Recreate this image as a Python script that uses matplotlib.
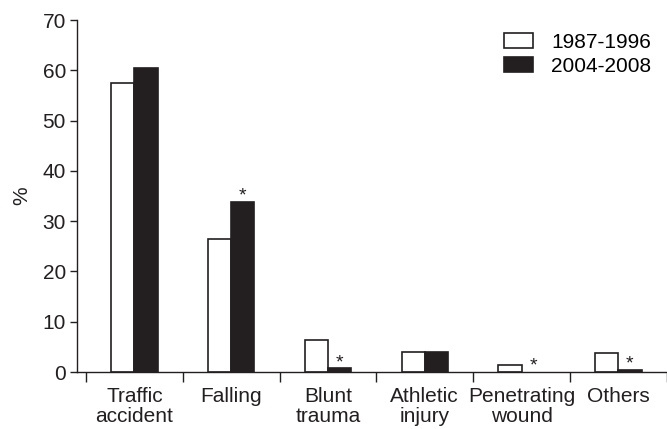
import matplotlib.pyplot as plt
import numpy as np

plt.rcParams['font.family'] = ['Liberation Sans', 'DejaVu Sans']

categories = ['Traffic\naccident', 'Falling', 'Blunt\ntrauma', 'Athletic\ninjury',
              'Penetrating\nwound', 'Others']
early = [57.5, 26.4, 6.4, 4.0, 1.4, 3.8]    # 1987-1996
late = [60.4, 33.9, 0.7, 4.0, 0.0, 0.4]     # 2004-2008
starred = [False, True, True, False, True, True]

dark = '#231f20'
x = np.arange(len(categories))
w = 0.24

fig = plt.figure(figsize=(6.67, 4.29), dpi=100)
ax = fig.add_axes([77 / 667, 57 / 429, 589.7 / 667, 352 / 429])

ax.bar(x - w / 2, early, w, color='white', edgecolor=dark, linewidth=1.2, label='1987-1996')
# no outline where a value is zero, so nothing shows there
late_lw = [1.2 if v > 0 else 0 for v in late]
ax.bar(x + w / 2, late, w, color=dark, edgecolor=dark, linewidth=late_lw, label='2004-2008')

for i in range(len(categories)):
    if starred[i]:
        ax.annotate('*', (x[i] + w / 2, late[i]), xytext=(0, -2), textcoords='offset points',
                    ha='center', va='bottom', fontsize=14, color=dark)

ax.set_xlim(-0.593, 5.5)
ax.set_ylim(0, 70)
ax.set_yticks(range(0, 71, 10))
ax.set_xticks(np.arange(-0.5, 6, 1))
ax.set_xticklabels([])
ax.set_xticks(x, minor=True)
ax.set_xticklabels(categories, minor=True, fontsize=15, linespacing=1.08, color=dark)
ax.tick_params(axis='x', which='minor', length=0, pad=11)
ax.tick_params(axis='x', which='major', length=7, width=1, color=dark, direction='out')
ax.tick_params(axis='y', length=5, width=1, color=dark, labelsize=15, labelcolor=dark, pad=3)

for s in ['top', 'right']:
    ax.spines[s].set_visible(False)
for s in ['left', 'bottom']:
    ax.spines[s].set_color(dark)
    ax.spines[s].set_linewidth(1)

ax.set_ylabel('%', fontsize=15, color=dark, labelpad=8)

ax.legend(loc='upper left', bbox_to_anchor=(504 / 667, 1 - 33 / 429), bbox_transform=fig.transFigure,
          frameon=False, fontsize=15, borderpad=0, borderaxespad=0,
          handlelength=1.4, handleheight=0.72, handletextpad=0.87, labelspacing=0.25)

fig.savefig('out.png', dpi=100)
